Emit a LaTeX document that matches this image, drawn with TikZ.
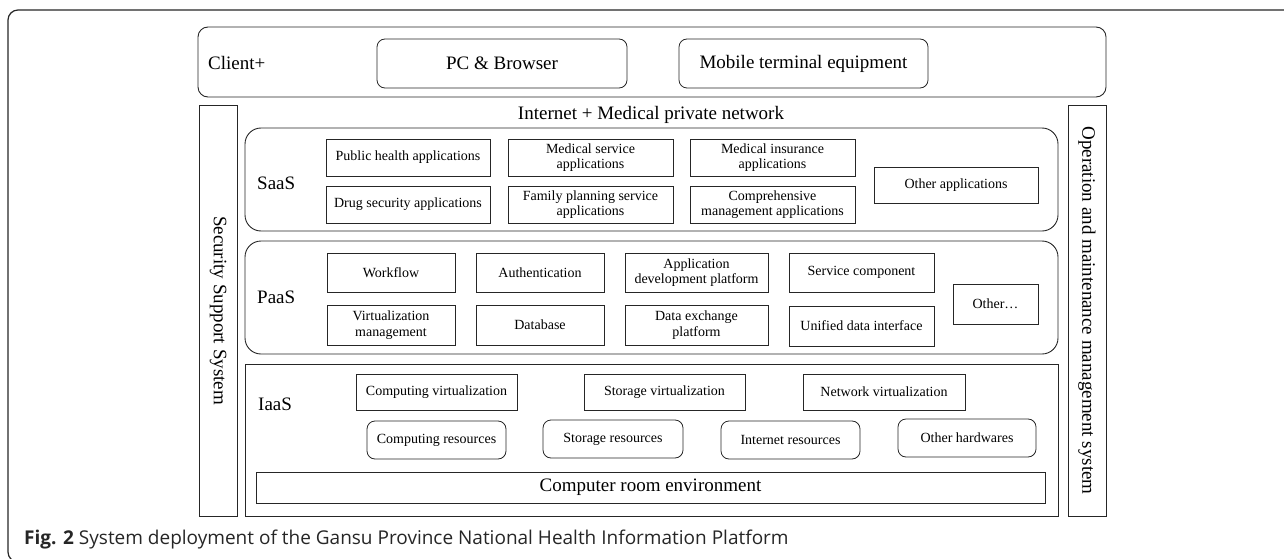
\documentclass[tikz,border=0pt]{standalone}
\usepackage{fontspec}
\setmainfont{Liberation Serif}
\newfontfamily\capfont{Open Sans}
\usetikzlibrary{positioning}
\newcommand{\lgtxt}{\fontsize{19}{22}\selectfont}
\newcommand{\smtxt}{\fontsize{14}{15.5}\selectfont}

\begin{document}
\begin{tikzpicture}[
    x=1pt,y=-1pt,
    lay/.style={draw=black!85,line width=0.9pt,rounded corners=16pt,minimum width=813pt,inner sep=0pt},
    app/.style={draw=black!85,line width=0.8pt,minimum width=164pt,minimum height=37pt,font=\smtxt,align=center,inner sep=1pt},
    res/.style={app,rounded corners=8pt,minimum width=139pt,minimum height=38pt},
    term/.style={app,rounded corners=8pt,minimum width=250pt,minimum height=49pt,font=\lgtxt},
    sidebar/.style={draw=black!85,line width=0.9pt,minimum width=38pt,minimum height=411pt,inner sep=0pt},
    lbl/.style={anchor=west,font=\lgtxt,inner sep=0pt},
    vlbl/.style={rotate=-90,font=\lgtxt,inner sep=0pt}
  ]
  \useasboundingbox (0,0) rectangle (1284,559);
  % frame of the figure
  \draw[line width=1.2pt,black!85,rounded corners=10pt] (1295,10) -- (8,10) -- (8,562) -- (40,562);

  % client layer
  \node[lay,rounded corners=10pt,minimum width=908pt,minimum height=70pt] (client) at (652,62) {};
  \node[lbl] (clientlbl) at (208,63) {Client+};
  \node[term] (pc) at (502,63.5) {PC \& Browser};
  \node[term,minimum width=249pt] (mobile) at (803.5,63.5) {Mobile terminal equipment};

  % side systems
  \node[sidebar] (secbar) at (218,310.5) {};
  \node[vlbl] at (secbar.center) {Security Support System};
  \node[sidebar] (opbar) at (1087,310.5) {};
  \node[vlbl] at (opbar.center) {Operation and maintenance management system};

  \node[font=\lgtxt,inner sep=0pt] (net) at (651,115) {Internet + Medical private network};

  % SaaS
  \node[lay,minimum height=103pt] (saas) at (651.5,179.5) {};
  \node[lbl] (saaslbl) at (257,183) {SaaS};
  \node[app] (pubhealth) at (408,157.5) {Public health applications};
  \node[app] (drug) at (408,204.5) {Drug security applications};
  \node[app,minimum width=165pt] (medserv) at (590.5,157.5) {Medical service\\applications};
  \node[app,minimum width=165pt] (family) at (590.5,204.5) {Family planning service\\applications};
  \node[app,minimum width=165pt] (medins) at (772.5,157.5) {Medical insurance\\applications};
  \node[app,minimum width=165pt] (compmgmt) at (772.5,204.5) {Comprehensive\\management applications};
  \node[app,minimum height=36pt] (otherapp) at (956,185) {Other applications};

  % PaaS
  \node[lay,minimum height=113pt] (paas) at (651.5,297.5) {};
  \node[lbl] (paaslbl) at (257,297) {PaaS};
  \node[app,minimum width=128pt,minimum height=39pt] (workflow) at (391,272.5) {Workflow};
  \node[app,minimum width=128pt,minimum height=39pt] (auth) at (540,272.5) {Authentication};
  \node[app,minimum width=143pt,minimum height=39pt] (appdev) at (696.5,272.5) {Application\\development platform};
  \node[app,minimum width=145pt,minimum height=39pt] (servcomp) at (861.5,272.5) {Service component};
  \node[app,minimum width=128pt,minimum height=40pt] (virtmgmt) at (391,325) {Virtualization\\management};
  \node[app,minimum width=128pt,minimum height=40pt] (database) at (540,325) {Database};
  \node[app,minimum width=143pt,minimum height=40pt] (dataex) at (696.5,325) {Data exchange\\platform};
  \node[app,minimum width=145pt,minimum height=40pt] (unified) at (861.5,326) {Unified data interface};
  \node[app,minimum width=85pt,minimum height=40pt] (otherp) at (995.5,304) {Other\dots};

  % IaaS
  \node[lay,rounded corners=0pt,minimum height=152pt] (iaas) at (651.5,440) {};
  \node[lbl] (iaaslbl) at (258,404) {IaaS};
  \node[app,minimum width=161pt,minimum height=36pt] (compvirt) at (436.5,392) {Computing virtualization};
  \node[app,minimum width=161pt,minimum height=36pt] (storvirt) at (664.5,392) {Storage virtualization};
  \node[app,minimum width=162pt,minimum height=36pt] (netvirt) at (884,392) {Network virtualization};
  \node[res] (compres) at (436.5,440) {Computing resources};
  \node[res,minimum width=140pt] (storres) at (613,439) {Storage resources};
  \node[res] (netres) at (790.5,440) {Internet resources};
  \node[res,minimum width=138pt] (hardware) at (967,438) {Other hardwares};
  \node[app,minimum width=789pt,minimum height=31pt,font=\lgtxt] (room) at (650.5,487.5) {Computer room environment};

  % caption
  \node[anchor=west,inner sep=0pt,text=black!85,font=\capfont\fontsize{19}{21}\selectfont] (caption) at (24,540)
    {\textbf{Fig. 2} System deployment of the Gansu Province National Health Information Platform};
\end{tikzpicture}
\end{document}
